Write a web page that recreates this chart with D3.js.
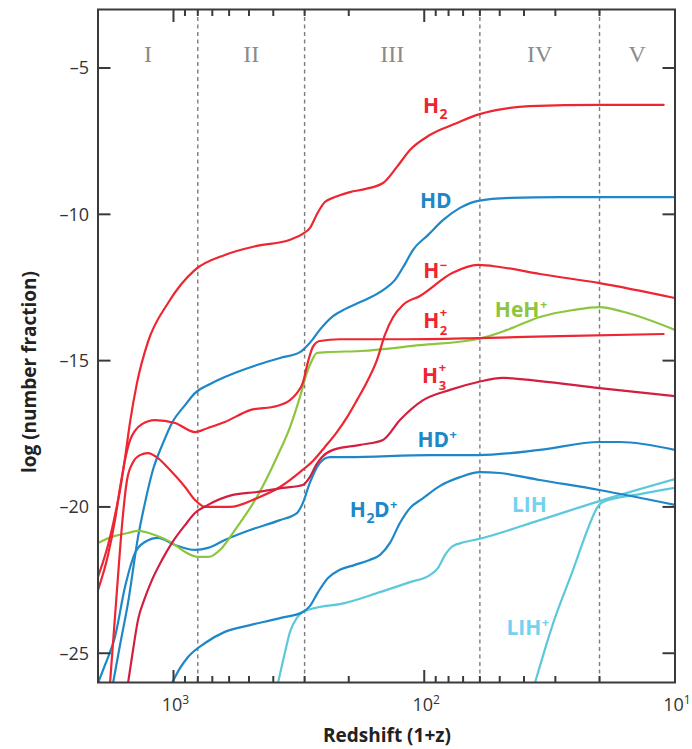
<!DOCTYPE html>
<html>
<head>
<meta charset="utf-8">
<script src="https://cdn.jsdelivr.net/npm/d3@7"></script>
<style>
  html, body { margin: 0; padding: 0; background: #fff; }
  svg { display: block; }
</style>
</head>
<body>
<svg id="chart" width="692" height="749"></svg>
<script>
// ---- Epochs of early-Universe chemistry, bounded in (1+z) ----
const epochEdges = [2000, 800, 300, 60, 20, 10];
const epochNames = ["I", "II", "III", "IV", "V"];

// ---- Axis ticks ----
const xMajorTicks = [1000, 100, 10];
const xMajorLabels = [["10", "3"], ["10", "2"], ["10", "1"]];
const xMinorTicks = [900, 800, 700, 600, 500, 400, 300, 200, 90, 80, 70, 60, 50, 40, 30, 20];
const yTicks = [-5, -10, -15, -20, -25];
const yTickLabels = ["\u20135", "\u201310", "\u201315", "\u201320", "\u201325"];

// ---- Abundances: [1+z, log10 number fraction] ----
const h2 = [[2000,-22.39],[1824,-21.30],[1711,-20.28],[1634,-19.42],[1561,-18.33],[1490,-17.10],[1398,-15.76],
  [1264,-14.36],[1051,-13.03],[821,-11.90],[624,-11.39],[465,-11.08],[343,-10.87],[305,-10.67],[286,-10.47],
  [265,-9.92],[249,-9.58],[227,-9.41],[198,-9.24],[171,-9.13],[146,-8.93],[128.5,-8.38],[114,-7.80],[95,-7.29],
  [74,-6.88],[62,-6.61],[51,-6.43],[38,-6.30],[20,-6.26],[11.1,-6.26]];

const hd = [[1742,-26.02],[1634,-24.72],[1518,-23.28],[1385,-21.03],[1300,-19.87],[1208,-18.74],[1101,-17.82],
  [1014,-17.13],[899,-16.52],[821,-16.11],[714,-15.80],[624,-15.56],[465,-15.15],[376,-14.91],[313,-14.71],
  [299,-14.57],[280,-14.30],[261,-13.95],[231,-13.48],[207,-13.24],[180,-13.00],[146,-12.59],[131,-12.25],
  [119.4,-11.70],[111,-11.22],[96.7,-10.71],[84,-10.19],[72,-9.78],[61,-9.54],[45.4,-9.44],[28.8,-9.41],[10,-9.41]];

const hMinus = [[1791,-26.02],[1727,-24.21],[1663,-22.33],[1604,-20.62],[1532,-19.08],[1450,-18.47],[1361,-18.23],
  [1264,-18.16],[1153,-18.33],[1032,-18.74],[899,-19.32],[821,-19.76],[748,-20.00],[596,-20.00],[465,-19.70],
  [376,-19.32],[313,-18.81],[278,-18.43],[249,-17.95],[223,-17.44],[203,-16.93],[185.5,-16.35],[167.7,-15.66],
  [154.4,-14.98],[143.5,-14.12],[133,-13.51],[121.6,-13.10],[104,-12.79],[77,-12.00],[61,-11.73],[50,-11.80],
  [34.6,-12.04],[20,-12.35],[10,-12.86]];

const h2Plus = [[2000,-22.84],[1824,-21.64],[1711,-20.45],[1634,-19.35],[1561,-18.40],[1490,-17.72],[1420,-17.38],
  [1340,-17.18],[1186,-17.03],[986,-17.13],[821,-17.44],[728,-17.30],[624,-17.10],[495,-16.69],[387,-16.55],[343,-16.35],
  [322,-16.11],[305,-15.76],[291,-15.05],[278,-14.53],[261,-14.33],[217,-14.27],[125,-14.27],[61,-14.23],
  [28.8,-14.16],[11.1,-14.09]];

const heHPlus = [[2000,-21.23],[1711,-20.99],[1518,-20.89],[1385,-20.82],[1186,-20.96],[1014,-21.23],[899,-21.54],
  [798,-21.71],[728,-21.71],[641,-21.40],[569,-20.79],[465,-19.66],[387,-18.30],[343,-17.27],[313,-16.24],
  [294,-15.42],[280,-14.98],[268,-14.74],[244,-14.71],[180,-14.67],[104,-14.47],[61,-14.26],[46.7,-13.95],
  [34.6,-13.51],[25.5,-13.27],[20,-13.17],[16.1,-13.33],[10,-13.95]];

const h3Plus = [[1518,-26.02],[1450,-24.89],[1385,-23.86],[1300,-23.11],[1219,-22.50],[1111,-21.81],[1014,-21.23],
  [899,-20.62],[821,-20.21],[728,-19.93],[580,-19.59],[465,-19.49],[366,-19.35],[305,-19.25],[286,-18.98],
  [270,-18.57],[256,-18.30],[231,-18.05],[180,-17.88],[146,-17.71],[125,-17.03],[101,-16.35],[79,-16.00],
  [61,-15.73],[48.6,-15.59],[34.6,-15.70],[20,-15.94],[10,-16.21]];

const hdPlus = [[2000,-26.02],[1875,-25.40],[1711,-24.44],[1561,-22.74],[1423,-21.57],[1300,-21.20],[1153,-21.06],
  [986,-21.30],[821,-21.47],[728,-21.40],[624,-21.13],[495,-20.79],[376,-20.45],[322,-20.21],[305,-19.87],
  [286,-19.18],[261,-18.50],[238,-18.30],[203,-18.30],[95,-18.23],[61,-18.23],[34.6,-18.05],[20,-17.78],
  [16.6,-17.78],[10,-18.05]];

const h2dPlus = [[1014,-26.02],[942,-25.51],[875,-25.13],[748,-24.65],[624,-24.27],[495,-24.04],[376,-23.80],
  [305,-23.59],[286,-23.39],[265,-22.91],[242,-22.43],[217,-22.15],[189,-21.98],[165,-21.81],[150,-21.64],
  [137,-21.23],[125,-20.55],[114,-20.04],[101,-19.70],[86.5,-19.28],[72,-18.98],[60,-18.81],[50,-18.84],
  [34.6,-19.08],[20,-19.42],[10,-19.93]];

const liH = [[383,-26.02],[359,-24.96],[343,-24.27],[322,-23.79],[305,-23.59],[261,-23.42],[217,-23.32],
  [150,-22.91],[114,-22.57],[95,-22.33],[88.2,-22.09],[82.6,-21.64],[77,-21.34],[68.9,-21.20],[61,-21.10],
  [34.6,-20.45],[20,-19.80],[10,-19.05]];

const liHPlus = [[36.2,-26.02],[30.6,-23.97],[25.5,-22.15],[21.8,-20.55],[20.5,-20.04],[19.4,-19.83],
  [13.8,-19.56],[10,-19.35]];

// ---- Colours ----
const RED = "#ed2631", DARKRED = "#d21f41", BLUE = "#1d87c8", GREEN = "#8cc63f", CYAN = "#5cc8dc";
const CYAN_TEXT = "#74d1f0";

const series = [
  { data: liH, color: CYAN },
  { data: liHPlus, color: CYAN },
  { data: h2dPlus, color: BLUE },
  { data: hdPlus, color: BLUE },
  { data: hd, color: BLUE },
  { data: heHPlus, color: GREEN },
  { data: h2Plus, color: RED },
  { data: hMinus, color: RED },
  { data: h2, color: RED },
  { data: h3Plus, color: DARKRED }
];

// Species labels: anchored (left, baseline) in data units
const speciesLabels = [
  { at: [101.2, -6.54], color: RED, parts: [{ t: "H" }, { t: "2", pos: "sub" }] },
  { at: [104, -9.78], color: BLUE, parts: [{ t: "HD" }] },
  { at: [101, -12.18], color: RED, parts: [{ t: "H" }, { t: "\u2212", pos: "sup" }] },
  { at: [101, -13.89], color: RED, parts: [{ t: "H" }, { t: "+", pos: "sup" }, { t: "2", pos: "sub", stack: true }] },
  { at: [102, -15.76], color: RED, parts: [{ t: "H" }, { t: "+", pos: "sup" }, { t: "3", pos: "sub", stack: true }] },
  { at: [106.5, -17.95], color: BLUE, parts: [{ t: "HD" }, { t: "+", pos: "sup" }] },
  { at: [52.3, -13.51], color: GREEN, parts: [{ t: "HeH" }, { t: "+", pos: "sup" }] },
  { at: [198, -20.34], color: BLUE, parts: [{ t: "H" }, { t: "2", pos: "sub" }, { t: "D" }, { t: "+", pos: "sup" }] },
  { at: [44.7, -20.17], color: CYAN_TEXT, parts: [{ t: "LIH" }] },
  { at: [47, -24.37], color: CYAN_TEXT, parts: [{ t: "LIH" }, { t: "+", pos: "sup" }] }
];

// ---- Layout ----
const plot = { left: 98, right: 675, top: 9.5, bottom: 682.5 };
const x = d3.scaleLog().domain([2000, 10]).range([plot.left, plot.right]);
const y = d3.scaleLinear().domain([-26, -3]).range([plot.bottom, plot.top]);

const svg = d3.select("#chart");
const SANS = "'Open Sans', 'Noto Sans', sans-serif";

svg.append("defs").append("clipPath").attr("id", "plotClip")
  .append("rect")
  .attr("x", plot.left).attr("y", plot.top)
  .attr("width", plot.right - plot.left).attr("height", plot.bottom - plot.top);

// Epoch boundaries (dashed)
svg.append("g").selectAll("line")
  .data(epochEdges.slice(1, -1))
  .join("line")
  .attr("x1", d => x(d)).attr("x2", d => x(d))
  .attr("y1", plot.top).attr("y2", plot.bottom)
  .attr("stroke", "#7d7d7d").attr("stroke-width", 1.4)
  .attr("stroke-dasharray", "4,3.5");

// Epoch names
svg.append("g").selectAll("text")
  .data(epochNames)
  .join("text")
  .attr("x", (d, i) => (x(epochEdges[i]) + x(epochEdges[i + 1])) / 2)
  .attr("y", 62)
  .attr("text-anchor", "middle")
  .attr("font-family", "'Liberation Serif', 'DejaVu Serif', serif")
  .attr("font-size", 24)
  .attr("fill", "#8b8b8b")
  .text(d => d);

// Curves
const line = d3.line()
  .x(d => x(d[0]))
  .y(d => y(d[1]))
  .curve(d3.curveMonotoneX);

svg.append("g").attr("clip-path", "url(#plotClip)")
  .selectAll("path")
  .data(series)
  .join("path")
  .attr("d", d => line(d.data))
  .attr("fill", "none")
  .attr("stroke", d => d.color)
  .attr("stroke-width", 2.2)
  .attr("stroke-linejoin", "round")
  .attr("stroke-linecap", "round");

// Frame
svg.append("rect")
  .attr("x", plot.left).attr("y", plot.top)
  .attr("width", plot.right - plot.left).attr("height", plot.bottom - plot.top)
  .attr("fill", "none").attr("stroke", "#3a3a3a").attr("stroke-width", 2);

// Ticks (pointing inward on all four sides)
const tickG = svg.append("g").attr("stroke", "#3a3a3a").attr("stroke-width", 2);
const MAJOR = 12.5, MINOR = 6.5, YTICK = 12.5;
xMajorTicks.forEach(t => {
  tickG.append("line").attr("x1", x(t)).attr("x2", x(t)).attr("y1", plot.bottom).attr("y2", plot.bottom - MAJOR);
  tickG.append("line").attr("x1", x(t)).attr("x2", x(t)).attr("y1", plot.top).attr("y2", plot.top + MAJOR);
});
xMinorTicks.forEach(t => {
  tickG.append("line").attr("x1", x(t)).attr("x2", x(t)).attr("y1", plot.bottom).attr("y2", plot.bottom - MINOR);
  tickG.append("line").attr("x1", x(t)).attr("x2", x(t)).attr("y1", plot.top).attr("y2", plot.top + MINOR);
});
yTicks.forEach(t => {
  tickG.append("line").attr("x1", plot.left).attr("x2", plot.left + YTICK).attr("y1", y(t)).attr("y2", y(t));
  tickG.append("line").attr("x1", plot.right).attr("x2", plot.right - YTICK).attr("y1", y(t)).attr("y2", y(t));
});

// Tick labels
svg.append("g").selectAll("text")
  .data(yTicks)
  .join("text")
  .attr("x", 89)
  .attr("y", d => y(d))
  .attr("dy", "0.35em")
  .attr("text-anchor", "end")
  .attr("font-family", SANS)
  .attr("font-size", 18)
  .attr("fill", "#333")
  .text((d, i) => yTickLabels[i]);

const xl = svg.append("g").selectAll("text")
  .data(xMajorTicks)
  .join("text")
  .attr("x", d => x(d) + 2)
  .attr("y", 711)
  .attr("text-anchor", "middle")
  .attr("font-family", SANS)
  .attr("font-size", 18)
  .attr("fill", "#333");
xl.append("tspan").text((d, i) => xMajorLabels[i][0]);
xl.append("tspan").attr("font-size", 12).attr("dy", -7).text((d, i) => xMajorLabels[i][1]);

// Axis titles
svg.append("text")
  .attr("x", 387).attr("y", 742)
  .attr("text-anchor", "middle")
  .attr("font-family", SANS).attr("font-weight", 700).attr("font-size", 19)
  .attr("fill", "#222")
  .text("Redshift (1+z)");

svg.append("text")
  .attr("transform", "translate(36,372) rotate(-90)")
  .attr("text-anchor", "middle")
  .attr("font-family", SANS).attr("font-weight", 700).attr("font-size", 19)
  .attr("fill", "#222")
  .text("log (number fraction)");

// Species labels with sub/superscripts; stacked pairs share one column
const LBL = 21, SMALL = 13, SUB = 14;
speciesLabels.forEach(lbl => {
  const g = svg.append("g")
    .attr("transform", `translate(${x(lbl.at[0])},${y(lbl.at[1])})`)
    .attr("font-family", SANS).attr("font-weight", 700)
    .attr("fill", lbl.color);
  const stacked = lbl.parts.some(p => p.stack);
  let cursor = 0, lastStart = 0;
  lbl.parts.forEach(p => {
    const start = p.stack ? lastStart : cursor;
    let dy = 0;
    if (p.pos === "sub") dy = stacked ? 7 : 6;
    if (p.pos === "sup") dy = stacked ? -11 : -8;
    const size = !p.pos ? LBL : (p.pos === "sub" && !stacked ? SUB : SMALL);
    const t = g.append("text")
      .attr("x", start + (p.pos ? 0.5 : 0))
      .attr("y", dy)
      .attr("font-size", size)
      .text(p.t);
    const w = t.node().getComputedTextLength();
    lastStart = start;
    cursor = Math.max(cursor, start + w);
  });
});
</script>
</body>
</html>
